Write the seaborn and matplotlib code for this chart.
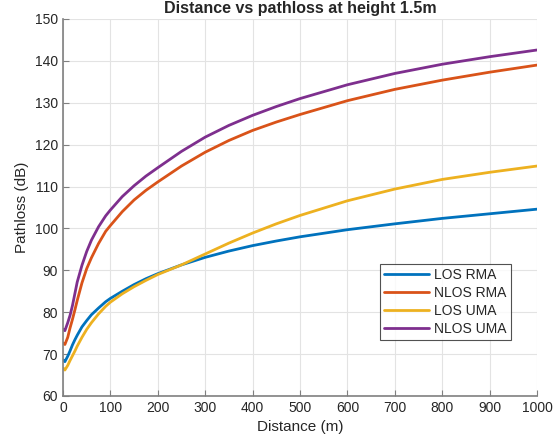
import pandas as pd
import numpy as np
import matplotlib.pyplot as plt
import seaborn as sns

# Values
distance = [1, 4, 10, 15, 20, 25, 30, 40, 50, 60, 75, 90, 100, 125, 150, 175,
            200, 250, 300, 350, 400, 450, 500, 600, 700, 800, 900, 1000]
los_rma = [68.6, 68.2, 69.5, 70.8, 72.2, 73.4, 74.5, 76.5, 78.0, 79.4, 81.0,
           82.5, 83.3, 85.0, 86.6, 88.0, 89.2, 91.3, 93.1, 94.6, 95.9, 97.0,
           98.0, 99.7, 101.1, 102.4, 103.5, 104.6]
nlos_rma = [72.6, 72.3, 74.0, 76.3, 78.3, 80.5, 82.8, 87.0, 90.4, 93.0, 96.4,
            99.3, 100.7, 104.0, 106.8, 109.1, 111.1, 114.9, 118.2, 121.0,
            123.4, 125.4, 127.2, 130.5, 133.2, 135.4, 137.3, 139.0]
los_uma = [66.6, 66.2, 67.3, 68.5, 69.6, 70.7, 71.9, 74.0, 75.9, 77.5, 79.6,
           81.4, 82.4, 84.4, 86.1, 87.6, 89.0, 91.3, 93.9, 96.5, 98.9, 101.1,
           103.1, 106.6, 109.4, 111.7, 113.4, 114.9]
nlos_uma = [75.9, 75.6, 77.5, 79.3, 81.6, 84.4, 87.2, 91.2, 94.5, 97.2, 100.4,
            103.0, 104.4, 107.6, 110.2, 112.5, 114.5, 118.4, 121.8, 124.6,
            127.0, 129.1, 131.0, 134.3, 137.0, 139.2, 141.0, 142.6]
series = ['LOS RMA', 'NLOS RMA', 'LOS UMA', 'NLOS UMA']
colors = ['#0072BD', '#D95319', '#EDB120', '#7E2F8E']

df = pd.concat([
    pd.DataFrame({'Distance': distance, 'Pathloss': vals, 'Model': name})
    for name, vals in zip(series, [los_rma, nlos_rma, los_uma, nlos_uma])
])

sns.set_style('white')
plt.rcParams['font.family'] = ['Liberation Sans', 'DejaVu Sans']

fig = plt.figure(figsize=(5.55, 4.47), dpi=100)
ax = fig.add_axes([0.1135, 0.1141, 0.8541, 0.8434])

sns.lineplot(data=df, x='Distance', y='Pathloss', hue='Model',
             hue_order=series, palette=colors, linewidth=2.0, ax=ax)

ax.set_xlim(0, 1000)
ax.set_ylim(60, 150)
ax.set_xticks(np.arange(0, 1001, 100))
ax.set_yticks(np.arange(60, 151, 10))
ax.grid(True, color='#e3e3e3', linewidth=0.8)
ax.set_axisbelow(True)
for side in ['top', 'right']:
    ax.spines[side].set_visible(False)
for side in ['left', 'bottom']:
    ax.spines[side].set_color('#808080')
    ax.spines[side].set_linewidth(1.2)
ax.tick_params(direction='in', length=4, color='#808080', labelsize=10,
               labelcolor='#262626', left=True, bottom=True)

ax.set_xlabel('Distance (m)', fontsize=11, color='#262626')
ax.set_ylabel('Pathloss (dB)', fontsize=11, color='#262626')
ax.set_title('Distance vs pathloss at height 1.5m', fontsize=11.5,
             fontweight='bold', pad=4)

leg = ax.legend(loc='lower right', bbox_to_anchor=(0.96, 0.13),
                fontsize=10, frameon=True, fancybox=False, handlelength=3.2,
                borderpad=0.3, labelspacing=0.28, handletextpad=0.4)
leg.get_frame().set_edgecolor('#262626')
leg.get_frame().set_linewidth(0.8)

fig.savefig('out.png', dpi=100)
